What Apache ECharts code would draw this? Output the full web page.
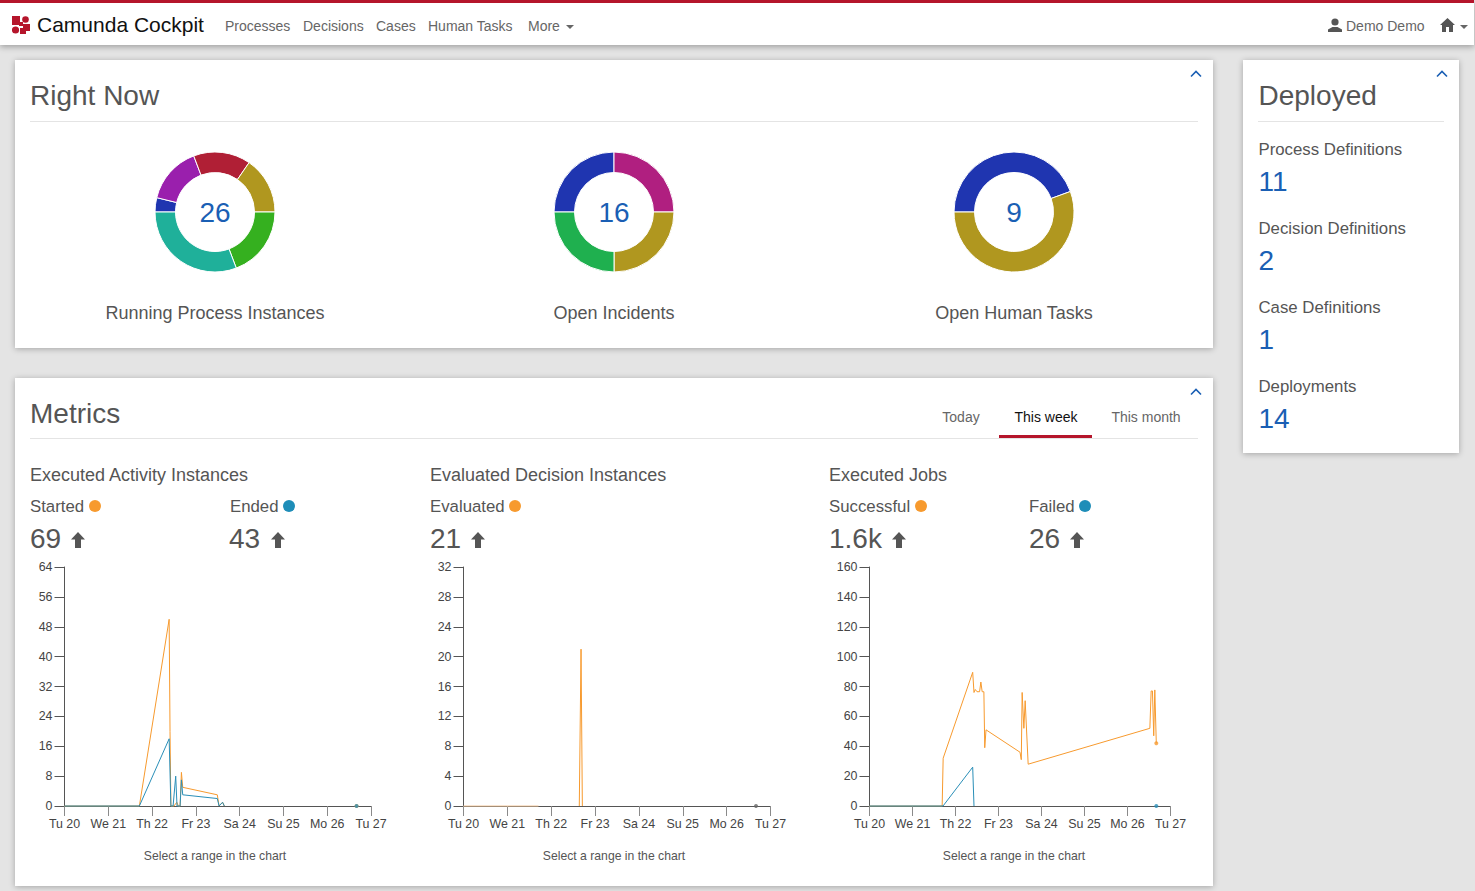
<!DOCTYPE html>
<html>
<head>
<meta charset="utf-8">
<title>Camunda Cockpit</title>
<script src="https://cdn.jsdelivr.net/npm/echarts@6/dist/echarts.min.js"></script>
<style>
  html, body { margin: 0; padding: 0; width: 1475px; height: 891px; overflow: hidden; background: #e4e4e4; }
  body { font-family: "Liberation Sans", Arial, sans-serif; color: #555; position: relative; }
  .t { position: absolute; white-space: nowrap; line-height: 1; transform: translateY(-50%); }
  .c { transform: translate(-50%, -50%); }
  .head { position: absolute; left: 0; top: 0; width: 1474px; height: 45px; background: #fff; border-top: 3px solid #b5152b; box-sizing: border-box; box-shadow: 0 2px 6px rgba(0,0,0,.3); z-index: 2; }
  .panel { position: absolute; background: #fff; box-shadow: 0 1px 6px rgba(0,0,0,.28); }
  .rule { position: absolute; height: 1px; background: #e4e4e4; }
  .nav { font-size: 14px; color: #666; }
  .h2 { font-size: 28px; color: #555; }
  .h3 { font-size: 18px; color: #555; }
  .lab { font-size: 16.8px; color: #555; }
  .big { font-size: 28px; color: #555; }
  .blue { font-size: 28px; color: #1a5fb4; }
  .hint { font-size: 12.2px; color: #555; }
  .dot { position: absolute; width: 12px; height: 12px; border-radius: 50%; transform: translate(-50%, -50%); }
  .chart { position: absolute; }
  svg { position: absolute; }
</style>
</head>
<body>
<div class="panel" style="left:15px;top:60px;width:1198px;height:288px"></div>
<div class="panel" style="left:15px;top:378px;width:1198px;height:508px"></div>
<div class="panel" style="left:1243px;top:60px;width:216px;height:393px"></div>

<div class="head"></div>
<div id="top" style="position:absolute;left:0;top:0;z-index:3">
  <svg style="left:12px;top:16px" width="18" height="18" viewBox="0 0 18 18" fill="#b5152b">
    <rect x="0" y="0" width="8" height="9"/><circle cx="13.500" cy="3.500" r="3.300"/>
    <rect x="7" y="6" width="4" height="4"/><rect x="11" y="8" width="7" height="7"/>
    <circle cx="3.500" cy="14" r="3.600"/><rect x="8" y="12" width="6" height="6"/>
  </svg>
  <span class="t" style="left:37px;top:25px;font-size:21px;color:#111;margin-top:-1px">Camunda Cockpit</span>
  <span class="t nav" style="left:225px;top:26px">Processes</span>
  <span class="t nav" style="left:303px;top:26px">Decisions</span>
  <span class="t nav" style="left:376px;top:26px">Cases</span>
  <span class="t nav" style="left:428px;top:26px">Human Tasks</span>
  <span class="t nav" style="left:528px;top:26px">More</span>
  <svg style="left:566px;top:25px" width="8" height="4"><path d="M0 0H8L4 4Z" fill="#666"/></svg>
  <svg style="left:1328px;top:18px" width="14" height="14" viewBox="0 0 14 14" fill="#555">
    <circle cx="7" cy="4" r="3.600"/><path d="M0 14V11.500L4.500 9H9.500L14 11.500V14Z"/>
  </svg>
  <span class="t nav" style="left:1346px;top:26px">Demo Demo</span>
  <svg style="left:1440px;top:18px" width="15" height="14" viewBox="0 0 15 14" fill="#555">
    <path d="M7.500 0L15 7H13V14H9V9H6V14H2V7H0Z"/>
  </svg>
  <svg style="left:1460px;top:25px" width="8" height="4"><path d="M0 0H8L4 4Z" fill="#666"/></svg>
</div>

<span class="t h2" style="left:30px;top:96px">Right Now</span>
<div class="rule" style="left:30px;top:121px;width:1168px"></div>
<span class="t h3 c" style="left:215px;top:313px">Running Process Instances</span>
<span class="t h3 c" style="left:614px;top:313px">Open Incidents</span>
<span class="t h3 c" style="left:1014px;top:313px">Open Human Tasks</span>

<span class="t h2" style="left:1258.500px;top:96px">Deployed</span>
<div class="rule" style="left:1258px;top:121px;width:186px"></div>
<span class="t lab" style="left:1258.500px;top:150px">Process Definitions</span>
<span class="t blue" style="left:1258.500px;top:182px">11</span>
<span class="t lab" style="left:1258.500px;top:229px">Decision Definitions</span>
<span class="t blue" style="left:1258.500px;top:261px">2</span>
<span class="t lab" style="left:1258.500px;top:308px">Case Definitions</span>
<span class="t blue" style="left:1258.500px;top:340px">1</span>
<span class="t lab" style="left:1258.500px;top:387px">Deployments</span>
<span class="t blue" style="left:1258.500px;top:419px">14</span>

<span class="t h2" style="left:30px;top:414px">Metrics</span>
<div class="rule" style="left:30px;top:438px;width:1168px"></div>
<span class="t nav c" style="left:961px;top:417px">Today</span>
<span class="t nav c" style="left:1046px;top:417px;color:#111">This week</span>
<span class="t nav c" style="left:1146px;top:417px">This month</span>
<div style="position:absolute;left:999px;top:435px;width:93px;height:3px;background:#b5152b"></div>

<span class="t h3" style="left:30px;top:475px">Executed Activity Instances</span>
<span class="t lab" style="left:30px;top:507px">Started</span><i class="dot" style="left:95px;top:506px;background:#f79a2e"></i>
<span class="t lab" style="left:230px;top:507px">Ended</span><i class="dot" style="left:289px;top:506px;background:#1e8db8"></i>
<span class="t big" style="left:30px;top:539px">69</span>
<span class="t big" style="left:229px;top:539px">43</span>

<span class="t h3" style="left:430px;top:475px">Evaluated Decision Instances</span>
<span class="t lab" style="left:430px;top:507px">Evaluated</span><i class="dot" style="left:515px;top:506px;background:#f79a2e"></i>
<span class="t big" style="left:430px;top:539px">21</span>

<span class="t h3" style="left:829px;top:475px">Executed Jobs</span>
<span class="t lab" style="left:829px;top:507px">Successful</span><i class="dot" style="left:921px;top:506px;background:#f79a2e"></i>
<span class="t lab" style="left:1029px;top:507px">Failed</span><i class="dot" style="left:1085px;top:506px;background:#1e8db8"></i>
<span class="t big" style="left:829px;top:539px">1.6k</span>
<span class="t big" style="left:1029px;top:539px">26</span>

<span class="t hint c" style="left:215px;top:856px">Select a range in the chart</span>
<span class="t hint c" style="left:614px;top:856px">Select a range in the chart</span>
<span class="t hint c" style="left:1014px;top:856px">Select a range in the chart</span>

<div id="d1" class="chart" style="left:135px;top:132px;width:160px;height:160px"></div>
<div id="d2" class="chart" style="left:534px;top:132px;width:160px;height:160px"></div>
<div id="d3" class="chart" style="left:934px;top:132px;width:160px;height:160px"></div>
<div id="m1" class="chart" style="left:20px;top:555px;width:380px;height:285px"></div>
<div id="m2" class="chart" style="left:420px;top:555px;width:380px;height:285px"></div>
<div id="m3" class="chart" style="left:820px;top:555px;width:380px;height:285px"></div>

<script>
const ORANGE = '#f79a2e';
const BLUE = '#2a8fb8';
const INK = '#444';
const LINK = '#1a5fb4';

// donuts, clockwise from 9 o'clock
const runningValues = [1, 4, 4, 4, 5, 8];
const runningColors = ['#1f35b0', '#9a1fad', '#b01f35', '#b0971f', '#35b01f', '#1fb09a'];
const incidentValues = [4, 4, 4, 4];
const incidentColors = ['#1f35b0', '#b01f80', '#b0971f', '#1fb04f'];
const taskValues = [4, 5];
const taskColors = ['#1f35b0', '#b0971f'];

// metrics, x is days since Tu 20
const dayLabels = ['Tu 20', 'We 21', 'Th 22', 'Fr 23', 'Sa 24', 'Su 25', 'Mo 26', 'Tu 27'];
const startedLine = [[0, 0], [1.71, 0], [2.39, 50], [2.41, 20], [2.43, 0], [2.5, 0], [2.565, 1], [2.6, 0], [2.64, 0], [2.67, 9], [2.7, 5], [3.49, 3], [3.53, 0], [3.61, 1], [3.65, 0]];
const endedLine = [[0, 0], [1.71, 0], [2.39, 18], [2.43, 0], [2.48, 0], [2.54, 8], [2.57, 0], [2.64, 0], [2.67, 7], [2.7, 3], [3.49, 2], [3.53, 0], [3.61, 1], [3.65, 0]];
const startedDot = [[6.67, 0]];
const endedDot = [[6.67, 0]];
const evaluatedFlat = [[0, 0], [1.71, 0]];
const evaluatedSpike = [[2.64, 0], [2.68, 21], [2.71, 0]];
const evaluatedDot = [[6.67, 0]];
const successLine = [[0, 0], [1.69, 0], [1.713, 32], [2.4, 89.5], [2.43, 76], [2.46, 78], [2.5, 76.5], [2.56, 76.5], [2.59, 83], [2.62, 76.5], [2.66, 76.5], [2.68, 39], [2.71, 51], [3.5, 36], [3.53, 31], [3.55, 76], [3.565, 76], [3.59, 52], [3.62, 70.5], [3.69, 28], [6.52, 52], [6.55, 77], [6.58, 77], [6.61, 47], [6.635, 77.7], [6.65, 77.7], [6.67, 42]];
const failedLine = [[0, 0], [1.71, 0], [2.4, 26], [2.43, 0]];
const successDot = [[6.67, 42]];
const failedDot = [[6.67, 0]];

function donut(id, total, values, colors) {
  const c = echarts.init(document.getElementById(id), null, { renderer: 'svg' });
  c.setOption({
    animation: false,
    color: colors,
    title: {
      text: String(total), left: 'center', top: 61,
      textStyle: { color: LINK, fontSize: 28, fontWeight: 'normal', fontFamily: 'Liberation Sans' },
    },
    series: [{
      type: 'pie', silent: true, startAngle: 180,
      center: [80, 80], radius: [39.5, 60],
      label: { show: false }, labelLine: { show: false },
      itemStyle: { borderColor: '#fff', borderWidth: 1 },
      data: values,
    }],
  });
  return c;
}

function lineSeries(data, color) {
  return { type: 'line', data, showSymbol: false, silent: true, clip: false, lineStyle: { color, width: 1 }, itemStyle: { color } };
}

function dotSeries(data, color) {
  return { type: 'scatter', data, symbolSize: 4, silent: true, clip: false, itemStyle: { color } };
}

function metric(id, plotLeft, plotWidth, yMax, yStep, series) {
  const c = echarts.init(document.getElementById(id), null, { renderer: 'svg' });
  c.setOption({
    animation: false,
    grid: { left: plotLeft, top: 12, width: plotWidth, height: 239 },
    xAxis: {
      type: 'value', min: 0, max: 7, interval: 1,
      axisLine: { show: true, onZero: false, lineStyle: { color: '#555' } },
      axisTick: { show: true, length: 10, lineStyle: { color: '#8a8a8a', width: 1 } },
      splitLine: { show: false },
      axisLabel: { color: INK, fontSize: 12.4, fontFamily: 'Liberation Sans', margin: 12, formatter: v => dayLabels[v], hideOverlap: false },
    },
    yAxis: {
      type: 'value', min: 0, max: yMax, interval: yStep,
      axisLine: { show: true, lineStyle: { color: '#555' } },
      axisTick: { show: true, length: 10, lineStyle: { color: '#555', width: 1 } },
      splitLine: { show: false },
      axisLabel: { color: INK, fontSize: 12.4, fontFamily: 'Liberation Sans', margin: 12 },
    },
    series,
  });
  return c;
}

donut('d1', 26, runningValues, runningColors);
donut('d2', 16, incidentValues, incidentColors);
donut('d3', 9, taskValues, taskColors);

metric('m1', 44.5, 306.5, 64, 8, [
  lineSeries(startedLine, ORANGE), lineSeries(endedLine, BLUE),
  dotSeries(startedDot, ORANGE), dotSeries(endedDot, BLUE),
]);
metric('m2', 43.5, 307, 32, 4, [
  lineSeries(evaluatedFlat, '#f3c79a'), lineSeries(evaluatedSpike, ORANGE), dotSeries(evaluatedDot, '#666'),
]);
metric('m3', 49.5, 301, 160, 20, [
  lineSeries(successLine, ORANGE), lineSeries(failedLine, BLUE),
  dotSeries(successDot, ORANGE), dotSeries(failedDot, BLUE),
]);

// up arrows next to the big numbers
const arrowLefts = [71, 271, 471, 892, 1070];
arrowLefts.forEach(x => {
  const s = document.createElementNS('http://www.w3.org/2000/svg', 'svg');
  s.setAttribute('width', 14); s.setAttribute('height', 16);
  s.setAttribute('style', `left:${x}px;top:532px`);
  s.innerHTML = '<path d="M7 0L14 7.500H10V16H4V7.500H0Z" fill="#555"/>';
  document.body.appendChild(s);
});
// collapse chevrons
[[1196, 74], [1442, 74], [1196, 392]].forEach(([x, y]) => {
  const s = document.createElementNS('http://www.w3.org/2000/svg', 'svg');
  s.setAttribute('width', 12); s.setAttribute('height', 8);
  s.setAttribute('style', `left:${x - 6}px;top:${y - 4}px`);
  s.innerHTML = '<path d="M1 6.500L6 1.500L11 6.500" fill="none" stroke="#1a5fb4" stroke-width="1.600"/>';
  document.body.appendChild(s);
});
</script>
</body>
</html>
